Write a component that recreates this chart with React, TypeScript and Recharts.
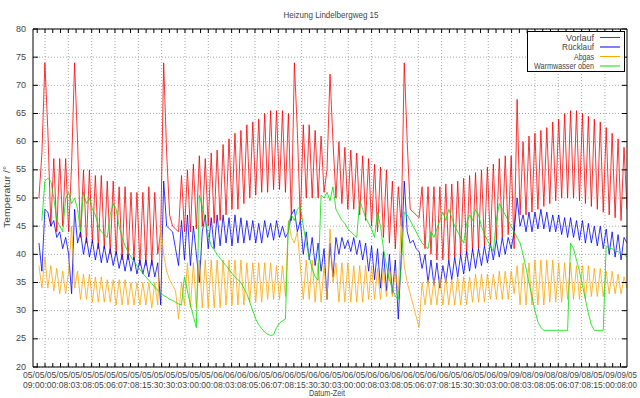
import React from 'react';
import { LineChart, Line, XAxis, YAxis, CartesianGrid } from 'recharts';

// ---- series values (one sample every 2.97 px of the plot, 201 samples) ----
const vorlauf: (number | null)[] = [
  null, null, 50, 58, 74, 62, 45, 57, 44, 57,
  45, 57, 44, 56, 74, 60, 43, 55, 42, 55,
  42, 54, 41, 54, 41, 53, 40, 53, 40, 52,
  39, 52, 39, 51, 39, 51, 38, 51, 38, 52,
  38, 51, 40, 44, 74, 58, 47, 45, 44.5, 44,
  54, 44, 55, 44, 56, 44.5, 57.5, 45, 57, 45,
  58, 45.5, 58.5, 46, 59.5, 47, 60.5, 48, 61.5, 48,
  62, 49, 63, 50, 63.5, 50.5, 64, 51, 65, 51,
  65.5, 51.5, 65.5, 51.5, 65.5, 51, 65, 46, 74, 62,
  46, 63, 50, 63, 50, 62, 50, 61, 51, 55,
  72, 60, 50, 60, 49, 59, 48, 58.5, 48, 58,
  47, 57.5, 46, 57, 45, 56, 44, 55.5, 43, 55,
  42, 53, 41, 52, 45, 74, 60, 48, 47.5, 47,
  46.5, 52, 41, 52, 40, 52, 39, 52, 39, 52.5,
  39, 52.5, 39.5, 53, 40, 53.5, 40, 54, 40.5, 54.5,
  41, 55, 41.5, 55.5, 42, 56, 42.5, 57, 43, 57.5,
  43.5, 57.5, 41, 67.5, 47, 60, 47, 61, 47.5, 61.5,
  48, 62, 48.5, 62.5, 49, 63.5, 49.5, 64, 50, 65,
  50, 65.5, 50, 65.5, 49.5, 65, 49, 64.5, 48.5, 64,
  48, 63.5, 47.5, 62.5, 47, 61.5, 46.5, 60.5, 46, 59,
  48,
];

const ruecklauf: (number | null)[] = [
  null, null, 42, 37, 48, 47.5, 45, 46, 43, 44,
  41, 43, 40, 33, 48, 42, 44, 40, 43, 39.5,
  42.5, 39, 42, 38.5, 41.5, 38.5, 41, 38, 40.5, 37.5,
  40, 37, 40, 37, 39.5, 36.5, 39, 36.5, 39, 36,
  39, 36, 38.5, 31, 53, 45, 44.5, 44, 41, 38,
  46, 39, 47, 38, 45, 40, 35, 44, 47, 41,
  46.5, 41, 47, 41.5, 47, 42, 46.5, 41.5, 47, 42,
  46.5, 42, 46, 42.5, 46, 42, 45.5, 42, 46, 43,
  45.5, 42.5, 46, 43, 45, 43, 44, 47, 48, 44,
  46, 40, 44, 39, 43, 38, 42, 37, 41, 32,
  42, 36, 43, 40, 43, 41, 42.5, 40.5, 43, 40,
  42.5, 39, 42, 37, 41.5, 35.5, 41, 34, 40.5, 33.5,
  40, 33, 39, 28.5, 40, 53, 44, 42, 42.5, 41,
  40.5, 37.5, 40, 35, 39, 34.5, 38.5, 34, 38, 35,
  39, 35.5, 39.5, 36, 40, 36.5, 40.5, 37, 41, 37.5,
  41, 38, 41.5, 38.5, 42, 39, 42.5, 39.5, 43, 40,
  43, 41, 44, 50, 45, 47, 44, 47.5, 44, 47.5,
  44.5, 48, 44.5, 47.5, 44, 47, 44, 47, 43.5, 46.5,
  43, 46.5, 43, 46, 42.5, 46, 42, 45.5, 42, 45,
  41.5, 45, 41, 44.5, 40, 44, 39.5, 43.5, 39, 43,
  42,
];

const abgas: (number | null)[] = [
  null, null, 38, 34, 39.5, 34, 38, 33.5, 37.5, 33,
  37, 33, 37, 45, 34, 37, 32, 36.5, 32, 36.5,
  31.5, 36, 31.5, 36, 31.5, 35.5, 31.5, 35.5, 31, 35.5,
  31, 35.5, 31, 35, 31, 35, 31, 35, 31, 35,
  30.5, 35, 31, 45, 40, 37, 35.5, 34.5, 33.5, 28.5,
  35, 31, 38.5, 30.5, 38.5, 30.5, 39, 30.5, 39, 30.5,
  39, 30.5, 39, 30.5, 39, 31, 39, 31, 39, 31,
  39, 31, 38.5, 31.5, 38.5, 31.5, 38.5, 31.5, 38.5, 32,
  38.5, 32, 38, 32, 38, 32.5, 46, 43, 42, 44,
  38, 32, 39, 32, 39, 31.5, 38.5, 31.5, 38, 32,
  44.5, 35, 38.5, 31.5, 38.5, 31.5, 38.5, 31.5, 38, 31.5,
  38, 31.5, 38, 32, 38, 32, 37.5, 32, 37.5, 32.5,
  37.5, 32.5, 37, 33, 46.5, 38, 35, 33, 31, 29,
  27, 35, 31, 35.5, 31, 35.5, 31, 36, 31, 36,
  31, 35.5, 31, 36, 31, 36, 31, 36, 31.5, 36.5,
  31.5, 36.5, 31.5, 36.5, 32, 36.5, 32, 37, 32, 37,
  32, 37, 33, 38, 31, 38.5, 31, 38.5, 31, 39,
  31, 39, 31, 39, 31.5, 39, 31.5, 38.5, 31.5, 38.5,
  32, 38.5, 32, 38, 32, 38, 32, 38, 32.5, 37.5,
  32.5, 37.5, 32.5, 37, 33, 37, 33, 36.5, 33, 36,
  34,
];

const warmwasser: (number | null)[] = [
  null, null, null, 46, 53, 53.5, 53, 50, 46, 45,
  44, 50, 51, 49, 50, 48, 44, 51, 49, 50,
  48, 47, 45, 44, 43.5, 43, 47, 49, 48, 45,
  43, 41.5, 40.5, 39.5, 38.8, 38, 37.3, 36.6, 36, 35.4,
  34.8, 34.2, 33.6, 33, 32.7, 32.4, 32, 31.8, 31.5, 31.2,
  31, 36, 33.5, 31, 29, 27, 50.5, 48.5, 46, 43.5,
  41.5, 40.8, 40, 39.3, 38.6, 38, 37.3, 36.6, 36, 35.5,
  35, 34, 33, 31.5, 30, 28.5, 27.5, 26.8, 26.2, 25.8,
  25.6, 25.7, 27, 27.8, 28.2, 28.5, 45.5, 47, 46, 48,
  48.5, 45, 42, 39.5, 37.5, 36, 35.4, 50.5, 50, 51,
  49.5, 52, 48, 47, 46, 45.5, 44.5, 44, 43.5, 43,
  49.5, 48, 46.5, 45.5, 44.5, 43, 47.5, 45, 41, 38,
  35.5, 34, 32.5, 32, 38, 47.5, 47, 46, 45, 44,
  43, 42, 41.5, 41, 44, 43, 44.5, 46, 47.5, 46,
  48, 46.5, 45, 44, 43, 42, 45.5, 47, 46, 48,
  47, 45, 43.5, 42.5, 41.5, 40.5, 46, 49, 48, 47,
  46, 45, 44, 43, 42, 40, 37.5, 35, 32.5, 30,
  28, 27, 26.5, 26.5, 26.5, 26.5, 26.5, 26.5, 26.5, 26.5,
  26.5, 42, 41, 39, 37, 34.5, 32, 29.5, 27.5, 26.5,
  26.5, 26.5, 26.5, 41.5, 41, 41, 40.5, 40.5, 40, 40,
  39.5,
];

// ---- tick labels ----
const dateLabels = [
  '05/05', '05/05', '05/05', '05/05', '05/05', '05/05', '05/05', '05/05', '05/05', '05/05',
  '05/05', '05/05', '05/05', '05/05', '05/05', '05/05', '06/05', '06/05', '06/05', '06/05',
  '05/06', '06/05', '06/05', '05/06', '06/05', '06/05', '05/06', '06/05', '05/06', '06/05',
  '06/05', '06/05', '06/05', '05/06', '06/05', '06/05', '05/06', '06/05', '05/06', '06/05',
  '09/05', '09/05', '08/05', '09/05', '08/05', '08/05', '09/05', '08/05', '05/09', '09/05',
  '09/05',
];
const timeLabels = [
  '09:00', '00:00', '00:00', '08:00', '03:00', '08:00', '05:00', '06:00', '07:00', '08:00',
  '15:00', '30:00', '30:00', '03:00', '00:00', '00:00', '08:00', '03:00', '08:00', '05:00',
  '06:00', '07:00', '08:00', '15:00', '30:00', '30:00', '03:00', '00:00', '00:00', '08:00',
  '03:00', '08:00', '05:00', '06:00', '07:00', '08:00', '15:00', '30:00', '30:00', '03:00',
  '00:00', '08:00', '03:00', '08:00', '05:00', '06:00', '07:00', '08:00', '15:00', '00:00',
  '08:00',
];
const yTicks = [20, 25, 30, 35, 40, 45, 50, 55, 60, 65, 70, 75, 80];

const seriesNames = ['Vorlauf', 'Rücklauf', 'Abgas', 'Warmwasser oben'];
const seriesKeys = ['vorlauf', 'ruecklauf', 'abgas', 'warmwasser'];
const seriesColors = ['#ff0000', '#0000ff', '#ffa500', '#00e000'];

// ---- layout constants ----
const X_MAX = 594;
const STEP = X_MAX / 200;
const LABEL_STEP = X_MAX / 50;
const LABEL_W = LABEL_STEP * 5 / 3;
const GRID0 = 12;
const GRID_STEP = 23.33;

const data = vorlauf.map((v, i) => ({
  t: i * STEP,
  vorlauf: v,
  ruecklauf: ruecklauf[i],
  abgas: abgas[i],
  warmwasser: warmwasser[i],
}));

const labelTicks = dateLabels.map((_, k) => k * LABEL_STEP);
const gridX: number[] = [];
for (let k = 0; GRID0 + k * GRID_STEP < X_MAX - 1; k++) gridX.push(GRID0 + k * GRID_STEP);
const minorTicks: number[] = [];
for (let k = -1; GRID0 + k * GRID_STEP / 3 < X_MAX - 1; k++) {
  const v = GRID0 + (k * GRID_STEP) / 3;
  if (v > 1) minorTicks.push(v);
}
const keyOf = (v: number) => v.toFixed(3);
const labelIdx = new Map(labelTicks.map((v, k) => [keyOf(v), k]));
const bottomTicks = [...labelTicks, ...minorTicks].sort((a, b) => a - b);

const FONT = "'Liberation Sans', Arial, sans-serif";
const TXT = '#444';

const BottomTick = (props: any) => {
  const { x, y, payload } = props;
  const k = labelIdx.get(keyOf(payload.value));
  if (k !== undefined) {
    const last = k === dateLabels.length - 1;
    const d = last ? dateLabels[k] : dateLabels[k].slice(0, 3);
    const tm = last ? timeLabels[k] : timeLabels[k].slice(0, 3);
    const w = last ? LABEL_W : LABEL_STEP;
    return (
      <g>
        <text x={x - LABEL_W / 2} y={y + 10.5} textLength={w} lengthAdjust="spacingAndGlyphs"
          fontSize={8.5} fontFamily={FONT} fill={TXT}>{d}</text>
        <text x={x - LABEL_W / 2} y={y + 20.5} textLength={w} lengthAdjust="spacingAndGlyphs"
          fontSize={8.5} fontFamily={FONT} fill={TXT}>{tm}</text>
      </g>
    );
  }
  return <line x1={x} x2={x} y1={y} y2={y - 4} stroke="#000" strokeWidth={1} />;
};

const TopTick = (props: any) => {
  const { x, y } = props;
  return <line x1={x} x2={x} y1={y} y2={y + 4} stroke="#000" strokeWidth={1} />;
};

const LeftTick = (props: any) => {
  const { x, y, payload } = props;
  return (
    <g>
      <line x1={x} x2={x + 5} y1={y} y2={y} stroke="#000" strokeWidth={1} />
      <text x={x - 7} y={y + 2.5} textAnchor="end" fontSize={9} fontFamily={FONT} fill={TXT}>
        {payload.value}
      </text>
    </g>
  );
};

const RightTick = (props: any) => {
  const { x, y } = props;
  return <line x1={x} x2={x - 5} y1={y} y2={y} stroke="#000" strokeWidth={1} />;
};

export default function App() {
  return (
    <div style={{ position: 'absolute', left: 0, top: 0, width: 640, height: 398, background: '#fff' }}>
      <LineChart width={640} height={398} data={data} margin={{ top: 28, right: 3, bottom: 0, left: 0 }}>
        <CartesianGrid
          stroke="#a8a8a8"
          strokeDasharray="1 2"
          verticalCoordinatesGenerator={({ offset }: any) =>
            gridX.map((v) => offset.left + (v / X_MAX) * offset.width)
          }
        />
        <XAxis dataKey="t" type="number" domain={[0, X_MAX]} ticks={bottomTicks} interval={0}
          tickSize={0} tickMargin={0} tickLine={false} axisLine={{ stroke: '#000' }} height={31}
          tick={<BottomTick />} allowDataOverflow />
        <XAxis xAxisId="top" orientation="top" dataKey="t" type="number" domain={[0, X_MAX]}
          ticks={minorTicks} interval={0} tickSize={0} tickMargin={0} tickLine={false}
          axisLine={{ stroke: '#000' }} height={1} tick={<TopTick />} allowDataOverflow />
        <YAxis domain={[20, 80]} ticks={yTicks} interval={0} tickSize={0} tickMargin={0}
          tickLine={false} axisLine={{ stroke: '#000' }} width={33} tick={<LeftTick />} allowDataOverflow />
        <YAxis yAxisId="r" orientation="right" domain={[20, 80]} ticks={yTicks} interval={0}
          tickSize={0} tickMargin={0} tickLine={false} axisLine={{ stroke: '#000' }} width={10}
          tick={<RightTick />} allowDataOverflow />
        {seriesKeys.map((k, i) => (
          <Line key={k} type="linear" dataKey={k} name={seriesNames[i]} stroke={seriesColors[i]}
            strokeWidth={0.8} dot={false} activeDot={false} isAnimationActive={false} connectNulls={false} />
        ))}
      </LineChart>
      <svg width={640} height={398} style={{ position: 'absolute', left: 0, top: 0, pointerEvents: 'none' }}>
        <text x={331} y={18} textAnchor="middle" fontSize={9} fontFamily={FONT} fill={TXT}
          textLength={95} lengthAdjust="spacingAndGlyphs">Heizung Lindelbergweg 15</text>
        <text x={0} y={0} transform="translate(10,197) rotate(-90)" textAnchor="middle" fontSize={9}
          fontFamily={FONT} fill={TXT} textLength={62} lengthAdjust="spacingAndGlyphs">Temperatur /°</text>
        <text x={327} y={396} textAnchor="middle" fontSize={8.5} fontFamily={FONT} fill={TXT}
          textLength={36} lengthAdjust="spacingAndGlyphs">Datum-Zeit</text>
        <rect x={527.5} y={31.5} width={97} height={40} fill="#fff" stroke="#000" strokeWidth={1} />
        {seriesNames.map((n, i) => (
          <g key={n}>
            <text x={594} y={40.5 + i * 9.5} textAnchor="end" fontSize={9} fontFamily={FONT} fill={TXT}
              textLength={n.length * 4} lengthAdjust="spacingAndGlyphs">{n}</text>
            <line x1={600} x2={620} y1={37.5 + i * 9.5} y2={37.5 + i * 9.5} stroke={seriesColors[i]} strokeWidth={1} />
          </g>
        ))}
      </svg>
    </div>
  );
}
